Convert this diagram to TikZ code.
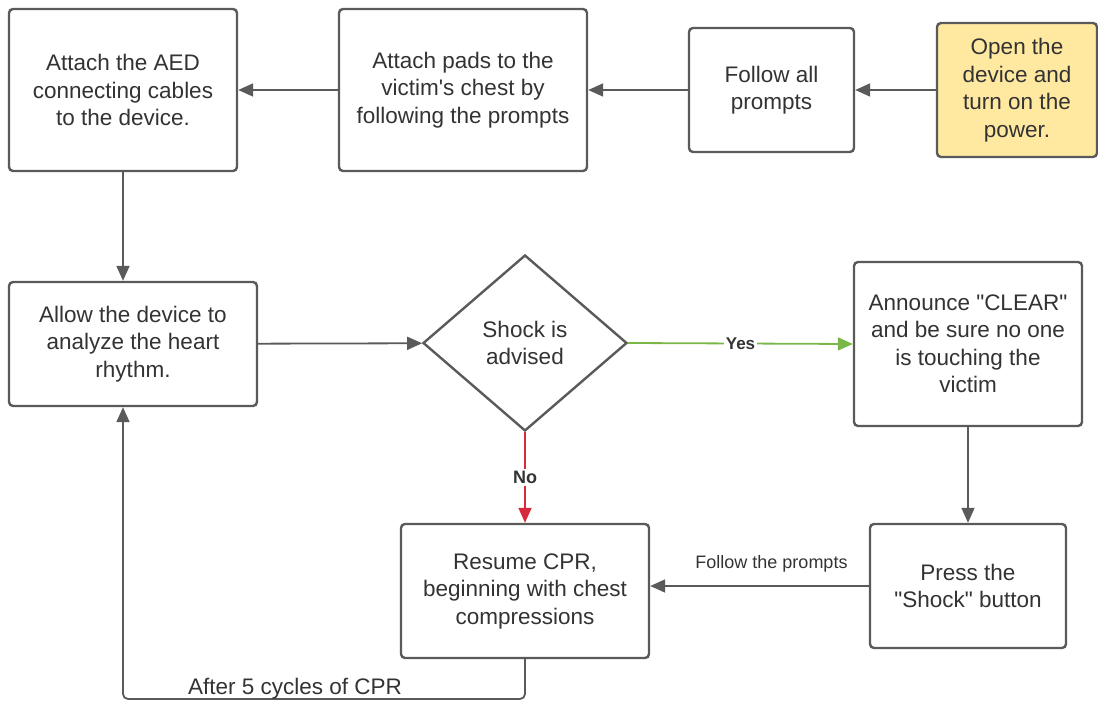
\documentclass[tikz,border=0pt]{standalone}
\usepackage{fontspec}
\setmainfont{Liberation Sans}
\usetikzlibrary{arrows.meta,shapes.geometric}
\definecolor{edge}{HTML}{5A5A5A}
\definecolor{ink}{HTML}{333333}
\definecolor{startfill}{HTML}{FFE8A0}
\definecolor{yesgreen}{HTML}{7AB648}
\definecolor{nored}{HTML}{D42A3C}
\newcommand{\dq}{\textquotedbl}
\newcommand{\sq}{\textquotesingle}
\tikzset{
  stepbox/.style={draw=edge, line width=2.4pt, rounded corners=4pt, fill=white,
    align=center, text=ink, font=\fontsize{22.5}{27.5}\selectfont, inner sep=0pt},
  decision/.style={draw=edge, line width=2.4pt, diamond, aspect=1.16, fill=white,
    align=center, text=ink, font=\fontsize{22.5}{27.5}\selectfont, inner sep=0pt,
    minimum width=204pt, minimum height=176pt},
  flow/.style={draw=edge, line width=1.8pt, -{Triangle[length=15pt,width=13pt]}},
  lbl/.style={text=ink, inner sep=2pt},
}
\begin{document}
\begin{tikzpicture}[x=1pt,y=-1pt]
\useasboundingbox (0,0) rectangle (1098,703);

\node[stepbox, minimum width=228pt, minimum height=162pt] (aed) at (123,90)
  {Attach the AED\\connecting cables\\to the device.};
\node[stepbox, minimum width=248pt, minimum height=162pt] (pads) at (463,90)
  {Attach pads to the\\victim\sq s chest by\\following the prompts};
\node[stepbox, minimum width=165pt, minimum height=124pt] (follow) at (771.5,90)
  {Follow all\\prompts};
\node[stepbox, fill=startfill, minimum width=160pt, minimum height=134pt] (open) at (1017,90)
  {Open the\\device and\\turn on the\\power.};
\node[stepbox, minimum width=248pt, minimum height=124pt] (analyze) at (133,344)
  {Allow the device to\\analyze the heart\\rhythm.};
\node[decision] (shock) at (525,343) {Shock is\\advised};
\node[stepbox, minimum width=228pt, minimum height=164pt] (clear) at (968,344)
  {Announce \dq CLEAR\dq\\and be sure no one\\is touching the\\victim};
\node[stepbox, minimum width=196pt, minimum height=124pt] (press) at (968,586)
  {Press the\\\dq Shock\dq{} button};
\node[stepbox, minimum width=248pt, minimum height=134pt] (cpr) at (525,591)
  {Resume CPR,\\beginning with chest\\compressions};

\draw[flow] (open) -- (follow);
\draw[flow] (follow) -- (pads);
\draw[flow] (pads) -- (aed);
\draw[flow] (aed) -- (analyze.north -| aed);
\draw[flow] (analyze) -- (shock);
\draw[flow, draw=yesgreen, fill=yesgreen] (shock.east) -- (clear.west)
  node[pos=0.5, fill=white, lbl, font=\bfseries\fontsize{17}{19}\selectfont] {Yes};
\draw[flow, draw=nored, fill=nored] (shock.south) -- (cpr.north)
  node[midway, fill=white, lbl, font=\bfseries\fontsize{18}{20}\selectfont] {No};
\draw[flow] (clear) -- (press);
\draw[flow] (press.west) -- (cpr.east |- press.west)
  node[midway, above=11pt, xshift=12pt, lbl, font=\fontsize{18}{20}\selectfont] {Follow the prompts};
\coordinate (loopR) at (525,699);
\coordinate (loopL) at (123,699);
\draw[flow, rounded corners=5pt] (cpr.south) -- (loopR) -- (loopL) -- (loopL |- analyze.south);
\node[lbl, font=\fontsize{22.5}{24}\selectfont, anchor=base] (loopnote) at (295,694) {After 5 cycles of CPR};
\end{tikzpicture}
\end{document}
